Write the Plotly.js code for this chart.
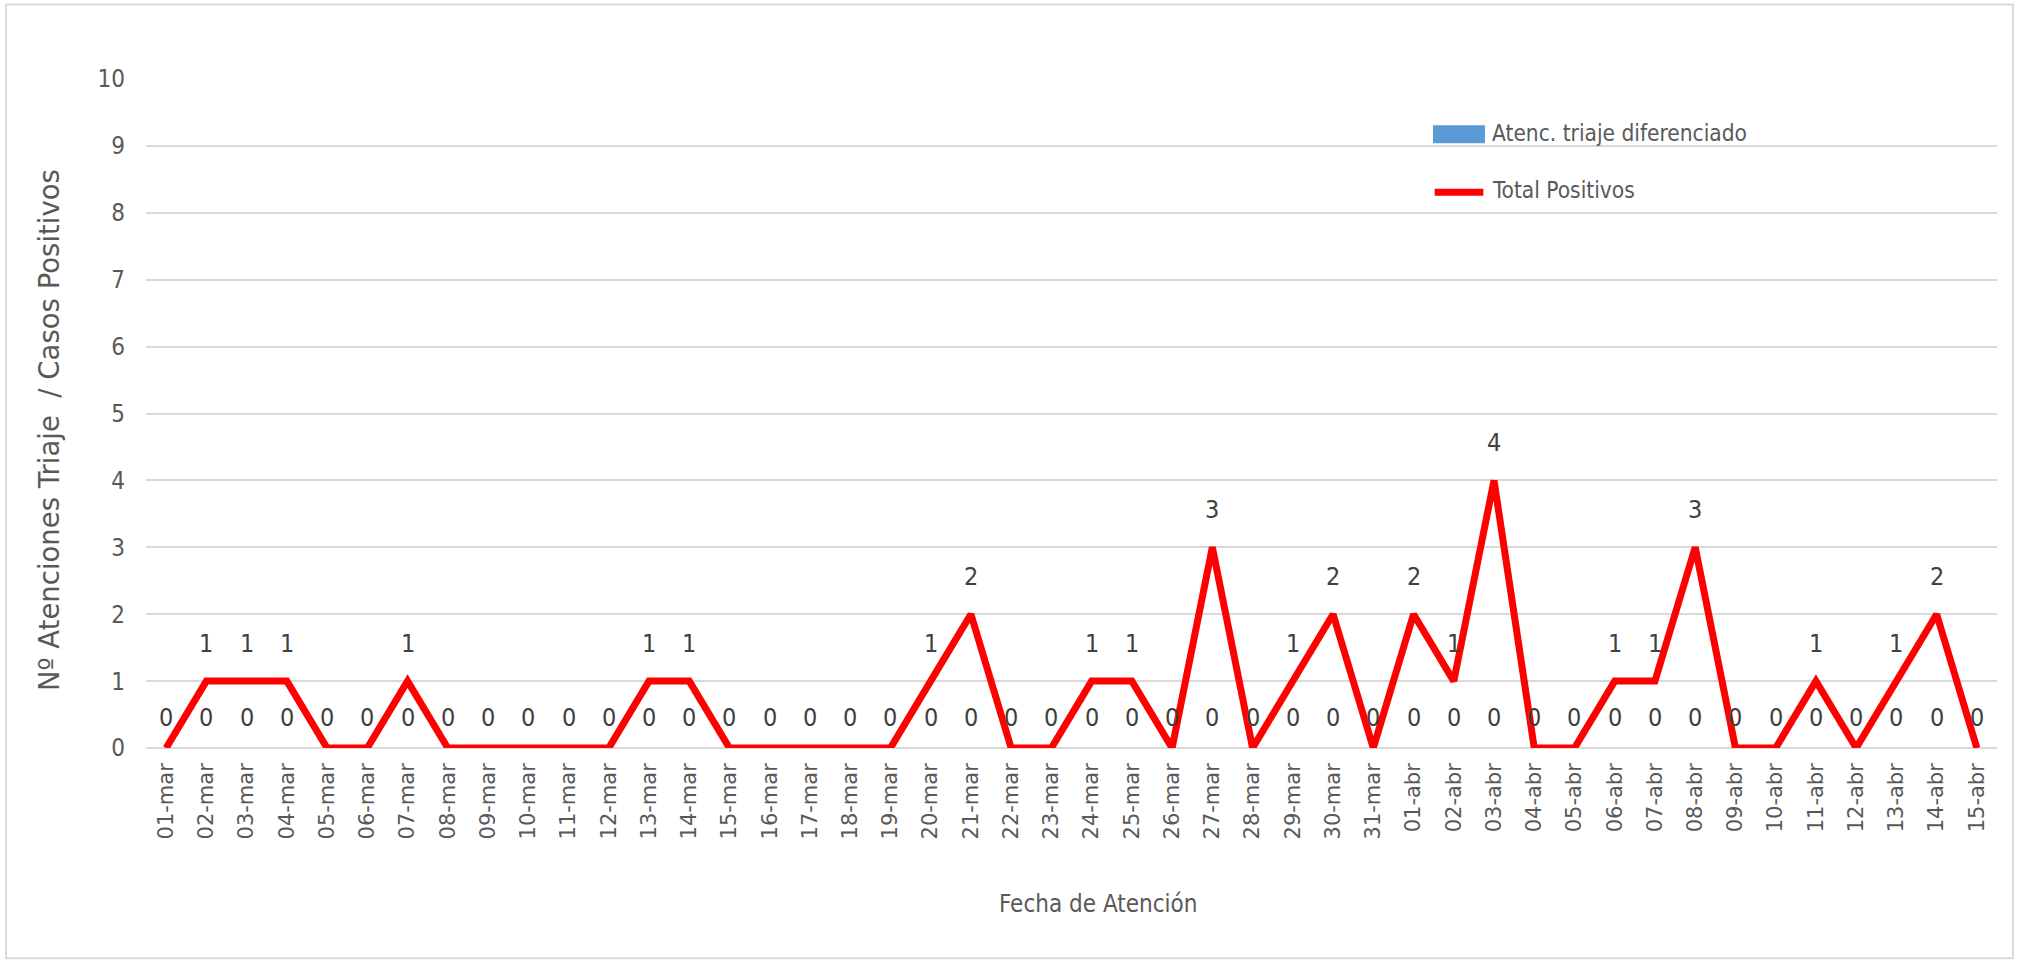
<!DOCTYPE html>
<html>
<head>
<meta charset="utf-8">
<script src="https://cdn.plot.ly/plotly-3.0.1.min.js"></script>
<style>
  html, body { margin: 0; padding: 0; background: #ffffff; }
  #chart { width: 2020px; height: 964px; }
</style>
</head>
<body>
<div id="chart"></div>
<script>
const fechas = [
  "01-mar","02-mar","03-mar","04-mar","05-mar","06-mar","07-mar","08-mar","09-mar","10-mar",
  "11-mar","12-mar","13-mar","14-mar","15-mar","16-mar","17-mar","18-mar","19-mar","20-mar",
  "21-mar","22-mar","23-mar","24-mar","25-mar","26-mar","27-mar","28-mar","29-mar","30-mar",
  "31-mar","01-abr","02-abr","03-abr","04-abr","05-abr","06-abr","07-abr","08-abr","09-abr",
  "10-abr","11-abr","12-abr","13-abr","14-abr","15-abr"
];
const atencionesTriaje = [
  0,0,0,0,0,0,0,0,0,0,
  0,0,0,0,0,0,0,0,0,0,
  0,0,0,0,0,0,0,0,0,0,
  0,0,0,0,0,0,0,0,0,0,
  0,0,0,0,0,0
];
const totalPositivos = [
  0,1,1,1,0,0,1,0,0,0,
  0,0,1,1,0,0,0,0,0,1,
  2,0,0,1,1,0,3,0,1,2,
  0,2,1,4,0,0,1,1,3,0,
  0,1,0,1,2,0
];
const yTicks = [0,1,2,3,4,5,6,7,8,9,10];

const NARROW = '"Liberation Sans Narrow", "DejaVu Sans Condensed", "Arial Narrow", sans-serif';
const WIDE = '"DejaVu Sans", Verdana, sans-serif';

const traces = [
  {
    type: 'bar',
    name: 'Atenc. triaje diferenciado',
    x: fechas,
    y: atencionesTriaje,
    marker: { color: '#5B9BD5' },
    showlegend: false,
    hoverinfo: 'x+y'
  },
  {
    type: 'scatter',
    mode: 'lines',
    name: 'Total Positivos',
    x: fechas,
    y: totalPositivos,
    line: { color: '#FF0000', width: 7 },
    showlegend: false,
    hoverinfo: 'x+y'
  }
];

const annotations = [];
// bar data labels
fechas.forEach((f, i) => {
  annotations.push({
    x: f, y: atencionesTriaje[i], xref: 'x', yref: 'y',
    text: String(atencionesTriaje[i]), showarrow: false,
    yanchor: 'middle', yshift: 31,
    font: { family: NARROW, size: 25, color: '#404040' }
  });
});
// line data labels (zero labels coincide with bar labels)
fechas.forEach((f, i) => {
  if (totalPositivos[i] !== 0) {
    annotations.push({
      x: f, y: totalPositivos[i], xref: 'x', yref: 'y',
      text: String(totalPositivos[i]), showarrow: false,
      yanchor: 'middle', yshift: 38,
      font: { family: NARROW, size: 25, color: '#404040' }
    });
  }
});
// custom legend texts
annotations.push({
  xref: 'paper', yref: 'paper', x: 0.7261, y: 0.9188,
  xanchor: 'left', yanchor: 'middle', showarrow: false,
  text: 'Atenc. triaje diferenciado',
  font: { family: NARROW, size: 22.5, color: '#595959' }
});
annotations.push({
  xref: 'paper', yref: 'paper', x: 0.7261, y: 0.8337,
  xanchor: 'left', yanchor: 'middle', showarrow: false,
  text: 'Total Positivos',
  font: { family: NARROW, size: 22.5, color: '#595959' }
});
// axis titles
annotations.push({
  xref: 'paper', yref: 'paper', x: 0.5143, y: -0.2336,
  xanchor: 'center', yanchor: 'middle', showarrow: false,
  text: 'Fecha de Atención',
  font: { family: NARROW, size: 24, color: '#595959' }
});
annotations.push({
  xref: 'paper', yref: 'paper', x: -0.0524, y: 0.4754,
  xanchor: 'center', yanchor: 'middle', showarrow: false, textangle: -90,
  text: 'Nº Atenciones Triaje\u00a0 / Casos Positivos',
  font: { family: WIDE, size: 27.5, color: '#595959' }
});

const shapes = [
  // chart border
  { type: 'rect', xref: 'paper', yref: 'paper', x0: -0.0756, x1: 1.0086, y0: -0.3142, y1: 1.1113,
    line: { color: '#D9D9D9', width: 2 }, fillcolor: 'rgba(0,0,0,0)', layer: 'below' },
  // legend symbols
  { type: 'rect', xref: 'paper', yref: 'paper', x0: 0.6953, x1: 0.7234, y0: 0.9039, y1: 0.9307,
    line: { width: 0 }, fillcolor: '#5B9BD5' },
  { type: 'line', xref: 'paper', yref: 'paper', x0: 0.6962, x1: 0.7225, y0: 0.8307, y1: 0.8307,
    line: { color: '#FF0000', width: 7 } }
];

const layout = {
  width: 2020,
  height: 964,
  margin: { l: 146, r: 23, t: 79, b: 216, pad: 0 },
  paper_bgcolor: '#ffffff',
  plot_bgcolor: '#ffffff',
  showlegend: false,
  bargap: 0.5,
  xaxis: {
    type: 'category',
    tickangle: -90,
    tickfont: { family: WIDE, size: 21, color: '#595959' },
    ticks: '',
    ticklabelstandoff: 10,
    showgrid: false,
    showline: false,
    zeroline: false
  },
  yaxis: {
    range: [0, 10],
    tickvals: yTicks,
    ticktext: yTicks.map(String),
    tickfont: { family: NARROW, size: 24, color: '#595959' },
    ticks: '',
    ticklabelstandoff: 20,
    showgrid: true,
    gridcolor: '#D9D9D9',
    gridwidth: 2,
    zeroline: true,
    zerolinecolor: '#D9D9D9',
    zerolinewidth: 2,
    showline: false
  },
  annotations: annotations,
  shapes: shapes
};

Plotly.newPlot('chart', traces, layout, { displayModeBar: false, staticPlot: true });
</script>
</body>
</html>
